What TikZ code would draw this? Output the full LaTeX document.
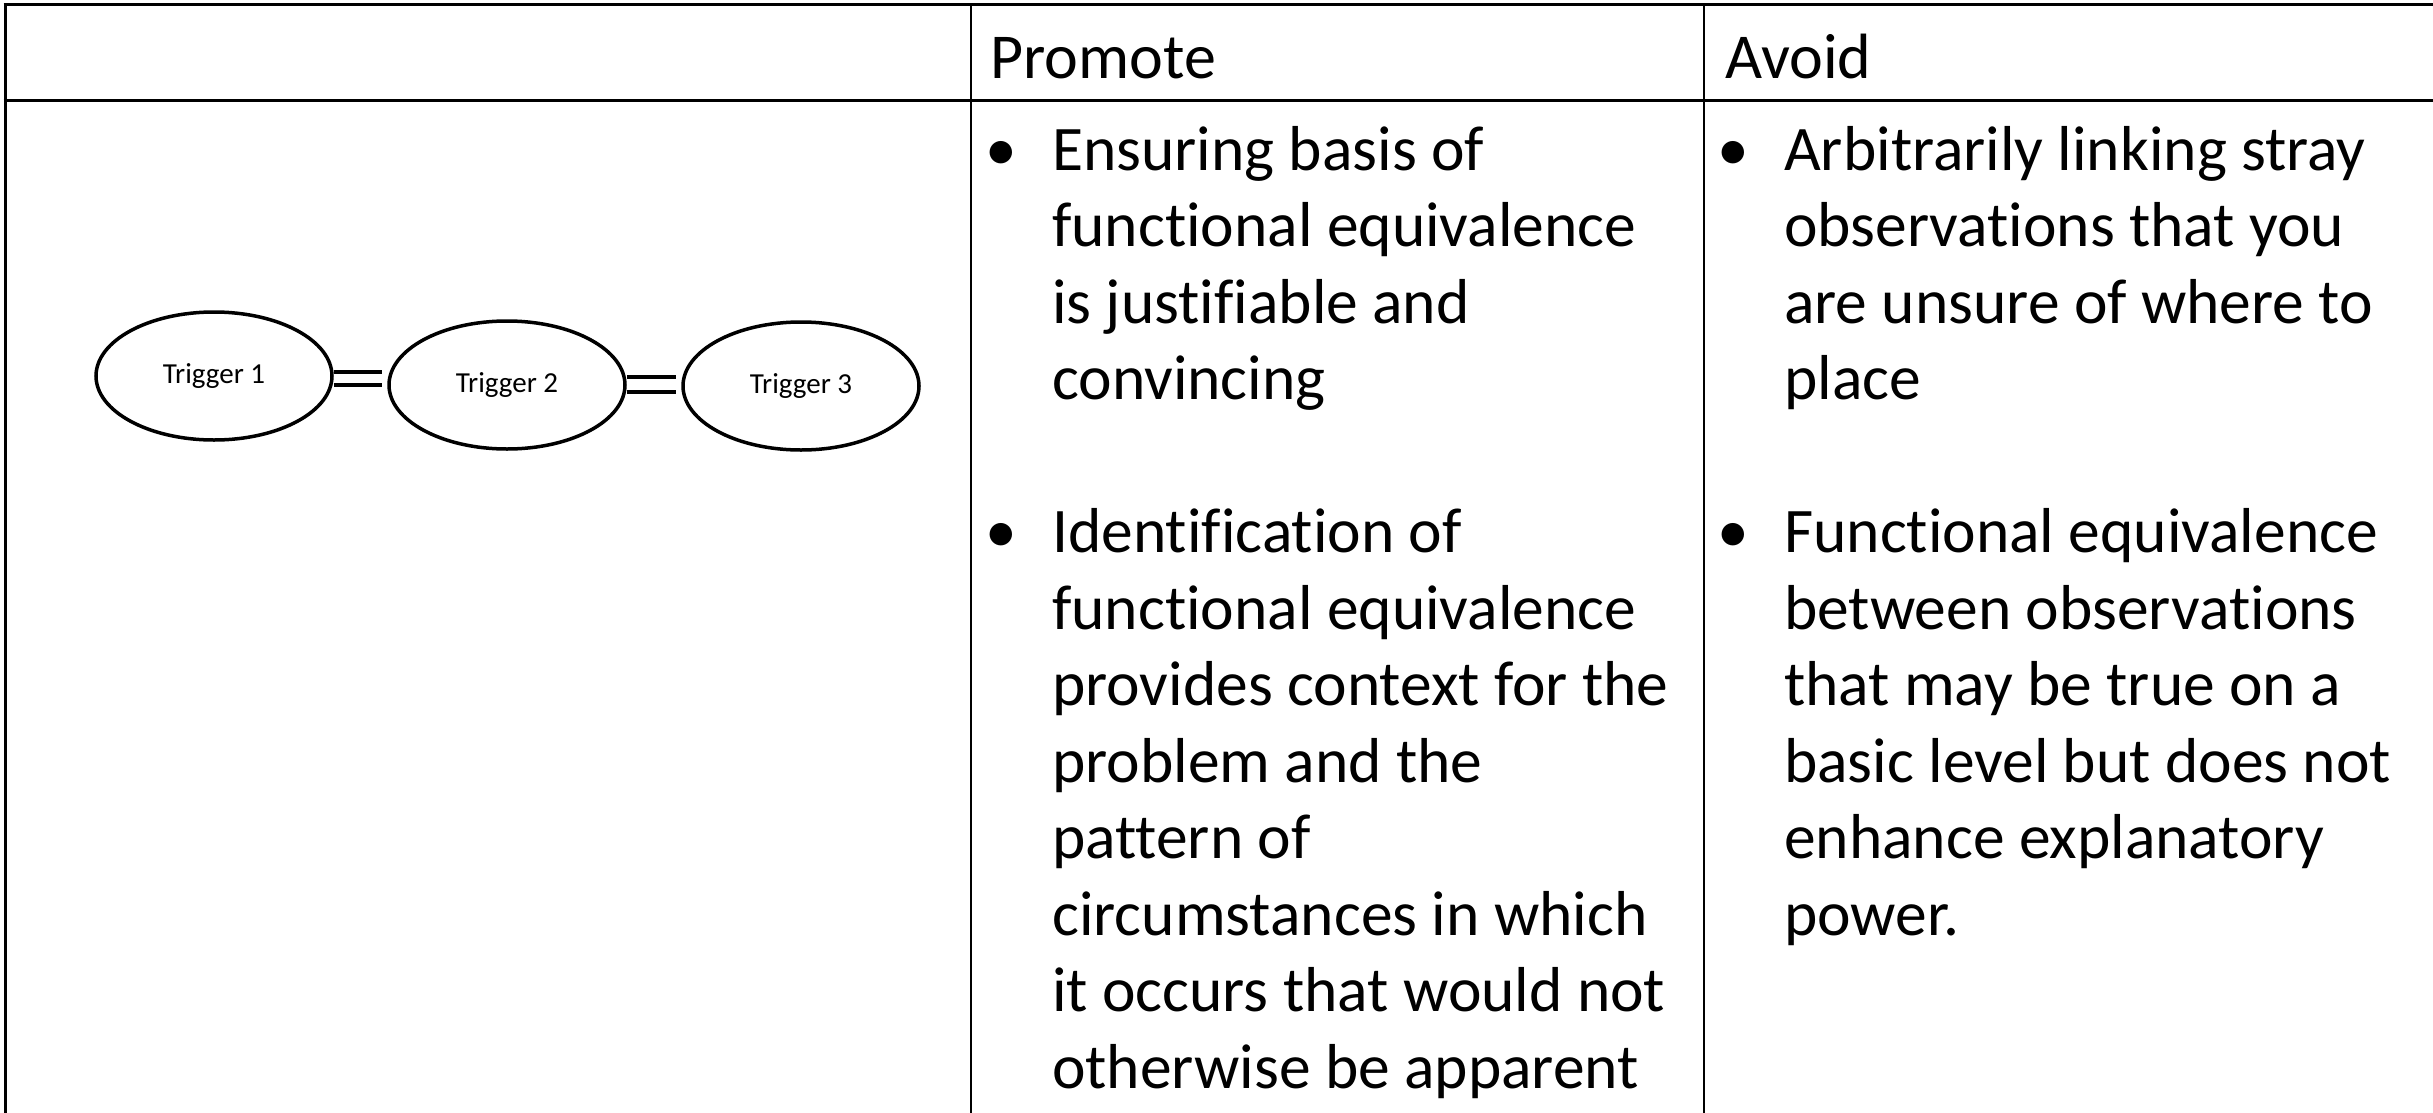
\documentclass[tikz,border=0pt]{standalone}
\usepackage{fontspec}
\setmainfont[Ligatures=NoCommon]{Carlito}
\usetikzlibrary{shapes.geometric}
\newcommand{\bulletmark}{\makebox[106pt]{\hspace{4pt}•}}
\begin{document}
\begin{tikzpicture}[x=1pt,y=-1pt,
  hrule/.style={line width=3pt},
  vrule/.style={line width=2.2pt},
  trig/.style={ellipse, draw, line width=3.5pt, fill=white,
    minimum width=236pt, minimum height=128pt, inner sep=0pt,
    font=\fontsize{29}{34}\selectfont},
  link/.style={line width=4pt, shorten >=5pt},
  head/.style={anchor=base west, inner sep=0pt, font=\fontsize{64}{77}\selectfont},
  body/.style={anchor=north west, inner sep=0pt, font=\fontsize{63.5}{76.5}\selectfont}
]
\clip (0,0) rectangle (2433,1113);
\useasboundingbox (0,0) rectangle (2433,1113);

% table rules
\draw[hrule] (3.5,5) -- (2440,5);
\draw[hrule] (3.5,101) -- (2440,101);
\draw[hrule] (5,3.5) -- (5,1120);
\draw[vrule] (971,5) -- (971,1120);
\draw[vrule] (1704,5) -- (1704,1120);

% column headings
\node[head] (hpromote) at (990,79) {Promote};
\node[head] (havoid) at (1725,79) {Avoid};

% bullet lists
\node[body] (promote) at (946,116.5) {%
\begin{tabular}{@{}l@{}l@{}}
\bulletmark & Ensuring basis of\\
 & functional equivalence\\
 & is justifiable and\\
 & convincing\\
 & \\
\bulletmark & Identification of\\
 & functional equivalence\\
 & provides context for the\\
 & problem and the\\
 & pattern of\\
 & circumstances in which\\
 & it occurs that would not\\
 & otherwise be apparent
\end{tabular}};

\node[body] (avoid) at (1678,116.5) {%
\begin{tabular}{@{}l@{}l@{}}
\bulletmark & Arbitrarily linking stray\\
 & observations that you\\
 & are unsure of where to\\
 & place\\
 & \\
\bulletmark & Functional equivalence\\
 & between observations\\
 & that may be true on a\\
 & basic level but does not\\
 & enhance explanatory\\
 & power.
\end{tabular}};

% trigger chain
\node[trig] (t1) at (214,376) {Trigger 1};
\node[trig] (t2) at (507,385) {Trigger 2};
\node[trig] (t3) at (801,386) {Trigger 3};

% double strokes joining neighbouring triggers
\coordinate (a1) at ([yshift=4pt]t1.east);
\coordinate (b1) at ([yshift=-9pt]t1.east);
\coordinate (a2) at ([yshift=8pt]t2.east);
\coordinate (b2) at ([yshift=-7pt]t2.east);
\draw[link] (a1) -- (a1 -| t2.west);
\draw[link] (b1) -- (b1 -| t2.west);
\draw[link] (a2) -- (a2 -| t3.west);
\draw[link] (b2) -- (b2 -| t3.west);
\end{tikzpicture}
\end{document}
